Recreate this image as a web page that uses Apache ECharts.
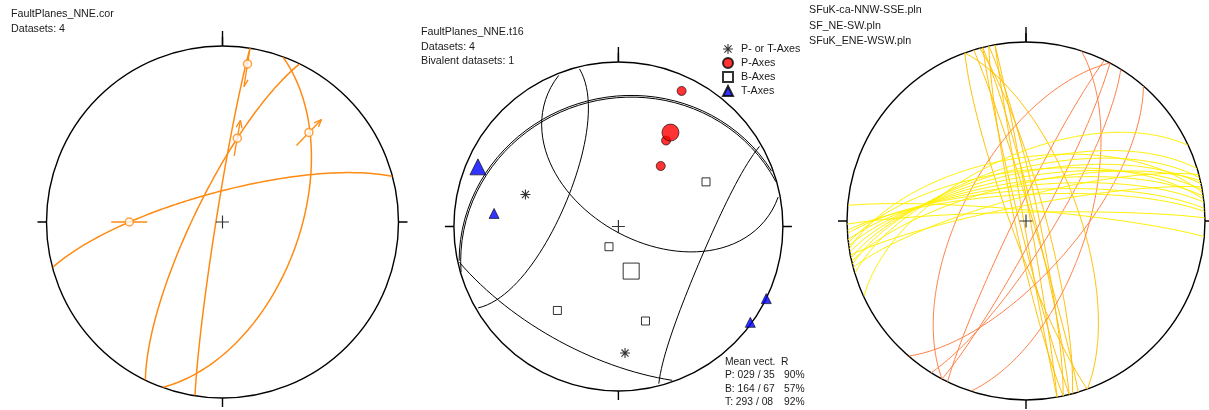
<!DOCTYPE html>
<html>
<head>
<meta charset="utf-8">
<script src="https://cdn.jsdelivr.net/npm/echarts@6/dist/echarts.min.js"></script>
<style>
html,body{margin:0;padding:0;background:#fff;}
#chart{width:1209px;height:410px;}
</style>
</head>
<body>
<div id="chart"></div>
<script>
// ---------- data: fault planes with striae (dip direction / dip, trend / plunge) ----------
const faultDipDir   = [345, 296, 110, 279];
const faultDip      = [76, 77, 54, 87];
const striaTrend    = [270, 10, 44, 9];
const striaPlunge   = [46, 50, 30, 10];
const striaSense    = ['none', 'normal', 'normal', 'dextral'];

// ---------- data: kinematic axes (trend / plunge) ----------
const pAxisTrend    = [25, 29, 35];
const pAxisPlunge   = [10, 40, 53];
const bAxisTrend    = [63, 205, 216, 164];
const bAxisPlunge   = [40, 79, 37, 40];
const tAxisTrend    = [276, 116, 126];
const tAxisPlunge   = [25, 0, 1];
const ptAxisTrend   = [289, 177];
const ptAxisPlunge  = [40, 24];
const meanNames     = ['P', 'B', 'T'];
const meanTrend     = [29, 164, 293];
const meanPlunge    = [35, 67, 8];
const meanR         = [90, 57, 92];
const coneAngle     = [57.7, 89.5, 53.3];
const legendNames   = ['P- or T-Axes', 'P-Axes', 'B-Axes', 'T-Axes'];

// ---------- data: planes (dip direction / dip) ----------
const nnwDipDir = [70, 75, 78, 76, 80, 260, 256, 250, 73, 258];
const nnwDip    = [66, 81, 84, 86, 88, 89, 87, 83, 87, 85];
const neDipDir  = [131, 298, 108, 118, 296, 122];
const neDip     = [67, 61, 62, 84, 85, 78];
const eneDipDir = [335, 351, 343, 346, 348, 350, 352, 354, 356, 345, 349, 353, 359, 5, 347, 357];
const eneDip    = [60, 61, 64, 66, 68, 70, 72, 74, 76, 79, 83, 67, 86, 85, 73, 78];

const fileNames = ['SFuK-ca-NNW-SSE.pln', 'SF_NE-SW.pln', 'SFuK_ENE-WSW.pln'];

// ---------- layout ----------
const NETS = [
  {center: [222.5, 222], radius: 176},
  {center: [618.4, 226.5], radius: 164.5},
  {center: [1026, 221], radius: 179}
];
const ORANGE = '#ff8a12';
const SET_COLORS = ['#ffc000', '#ff7f45', '#ffef00'];
const FONT = '"Liberation Sans", Arial, sans-serif';
const FONT_SIZE = 10.7;
const TXT = '#1a1a1a';

// ---------- spherical helpers (lower hemisphere, equal-area) ----------
const D2R = Math.PI / 180;
function vec(tr, pl) {
  const t = tr * D2R, p = pl * D2R;
  return [Math.cos(p) * Math.sin(t), Math.cos(p) * Math.cos(t), Math.sin(p)];
}
function cross(a, b) {
  return [a[1]*b[2]-a[2]*b[1], a[2]*b[0]-a[0]*b[2], a[0]*b[1]-a[1]*b[0]];
}
function unit(a) { const l = Math.hypot(a[0], a[1], a[2]); return [a[0]/l, a[1]/l, a[2]/l]; }
function toTP(v) {
  let tr = Math.atan2(v[0], v[1]) / D2R; if (tr < 0) tr += 360;
  const pl = Math.asin(Math.max(-1, Math.min(1, v[2]))) / D2R;
  return [tr, pl];
}
function proj(tr, pl) {
  return [Math.SQRT2 * Math.sin((90 - pl) * D2R / 2), ((tr % 360) + 360) % 360];
}
function projVec(v) { const tp = toTP(v); return proj(tp[0], tp[1]); }
function xy(tr, pl) {
  const r = Math.SQRT2 * Math.sin((90 - pl) * D2R / 2);
  return [r * Math.sin(tr * D2R), r * Math.cos(tr * D2R)];
}
function xyPolar(p) {
  let a = Math.atan2(p[0], p[1]) / D2R; if (a < 0) a += 360;
  return [Math.hypot(p[0], p[1]), a];
}
function greatCircle(dd, dip) {
  const s = vec(dd - 90, 0), d = vec(dd, dip), out = [];
  for (let i = 0; i <= 180; i++) {
    const a = i * D2R, c = Math.cos(a), sn = Math.sin(a);
    out.push(projVec([c*s[0] + sn*d[0], c*s[1] + sn*d[1], Math.max(0, c*s[2] + sn*d[2])]));
  }
  return out;
}
// small circle around an axis; returns lower-hemisphere runs (upper part folded to its antipode)
function coneRuns(tr, pl, ang, step) {
  const a = vec(tr, pl);
  const u = unit(cross(a, [0, 0, 1])), w = cross(a, u);
  const ca = Math.cos(ang * D2R), sa = Math.sin(ang * D2R);
  const pts = [];
  for (let f = 0; f < 360; f += step) {
    const c = Math.cos(f * D2R), s = Math.sin(f * D2R);
    const v = [0, 1, 2].map(k => ca * a[k] + sa * (c * u[k] + s * w[k]));
    pts.push({lower: v[2] >= 0, v: v[2] >= 0 ? v : v.map(x => -x)});
  }
  let start = 0;
  for (let i = 0; i < pts.length; i++) {
    if (pts[i].lower !== pts[(i + pts.length - 1) % pts.length].lower) { start = i; break; }
  }
  const runs = []; let cur = null, flag = null;
  for (let k = 0; k < pts.length; k++) {
    const p = pts[(start + k) % pts.length];
    if (p.lower !== flag) { cur = []; runs.push(cur); flag = p.lower; }
    cur.push(projVec(p.v));
  }
  return runs;
}

// ---------- series builders ----------
const series = [];
function addLine(pi, data, color, width, z) {
  series.push({type: 'line', coordinateSystem: 'polar', polarIndex: pi, data: data,
    showSymbol: false, symbol: 'none', clip: false, silent: true, animation: false,
    lineStyle: {color: color, width: width}, z: z || 2});
}
function addScatter(pi, name, data, symbol, size, style, z) {
  series.push({type: 'scatter', name: name, coordinateSystem: 'polar',
    polarIndex: pi, data: data, symbol: symbol, symbolSize: size, clip: false,
    itemStyle: style, silent: true, animation: false, z: z || 5});
}

function barPath(angles, w) {
  let d = '';
  angles.forEach(a => {
    const c = Math.cos(a * D2R), s = Math.sin(a * D2R);
    const px = -s * w, py = c * w;
    const pts = [[-c + px, -s + py], [c + px, s + py], [c - px, s - py], [-c - px, -s - py]];
    d += 'M' + pts.map(p => p[0].toFixed(3) + ',' + p[1].toFixed(3)).join('L') + 'Z';
  });
  return 'path://' + d;
}
const CROSS = barPath([0, 90], 0.09);
const STAR = barPath([0, 45, 90, 135], 0.11);

// frame: centre crosses
NETS.forEach((n, i) => addScatter(i * 2, '', [[0, 0]], CROSS, 13, {color: '#000'}, 3));

// ---------- net 1: fault planes and striae ----------
const NET1_R = NETS[0].radius;
faultDipDir.forEach((dd, i) => addLine(0, greatCircle(dd, faultDip[i]), ORANGE, 1.5));
striaTrend.forEach((tr, i) => {
  const p0 = xy(tr, striaPlunge[i]);
  const dir = [Math.sin(tr * D2R), Math.cos(tr * D2R)];
  const sense = striaSense[i];
  const half = (sense === 'dextral' ? 23 : 18) / NET1_R;
  const head = 8 / NET1_R;
  const tip = [p0[0] + dir[0] * half, p0[1] + dir[1] * half];
  const tail = [p0[0] - dir[0] * half, p0[1] - dir[1] * half];
  addLine(0, [xyPolar(tail), xyPolar(tip)], ORANGE, 1.3, 3);
  const barb = (t, dv, side) => {
    const lp = [-dv[1], dv[0]];
    const c = Math.cos(22 * D2R), s = Math.sin(22 * D2R);
    return [t[0] - head * c * dv[0] + side * head * s * lp[0], t[1] - head * c * dv[1] + side * head * s * lp[1]];
  };
  if (sense === 'normal') {
    addLine(0, [xyPolar(barb(tip, dir, 1)), xyPolar(tip), xyPolar(barb(tip, dir, -1))], ORANGE, 1.3, 3);
  } else if (sense === 'dextral') {
    addLine(0, [xyPolar(tip), xyPolar(barb(tip, dir, 1))], ORANGE, 1.3, 3);
    const back = [-dir[0], -dir[1]];
    addLine(0, [xyPolar(tail), xyPolar(barb(tail, back, 1))], ORANGE, 1.3, 3);
  }
});
addScatter(0, '', striaTrend.map((t, i) => proj(t, striaPlunge[i])), 'circle', 8,
  {color: '#fff', borderColor: ORANGE, borderWidth: 1.5}, 6);

// ---------- net 2: cones around mean axes, individual and mean axes ----------
meanTrend.forEach((tr, i) => {
  coneRuns(tr, meanPlunge[i], coneAngle[i], 4).forEach(run => addLine(2, run, '#000', 1));
});
const axisStyle = {
  star: {color: '#000'},
  p: {color: '#ff0000', borderColor: '#000', borderWidth: 0.8},
  b: {color: '#fff', borderColor: '#000', borderWidth: 1},
  t: {color: '#0000ff', borderColor: '#000', borderWidth: 0.8}
};
addScatter(2, legendNames[0], ptAxisTrend.map((t, i) => proj(t, ptAxisPlunge[i])), STAR, 10, axisStyle.star);
addScatter(2, legendNames[1], pAxisTrend.map((t, i) => proj(t, pAxisPlunge[i]))
  .concat([{value: proj(meanTrend[0], meanPlunge[0]), symbolSize: 17}]), 'circle', 9, axisStyle.p);
addScatter(2, legendNames[2], bAxisTrend.map((t, i) => proj(t, bAxisPlunge[i]))
  .concat([{value: proj(meanTrend[1], meanPlunge[1]), symbolSize: 16}]), 'rect', 8, axisStyle.b);
addScatter(2, legendNames[3], tAxisTrend.map((t, i) => proj(t, tAxisPlunge[i]))
  .concat([{value: proj(meanTrend[2], meanPlunge[2]), symbolSize: 16}]), 'triangle', 10, axisStyle.t);

// ---------- net 3: plane sets ----------
[[nnwDipDir, nnwDip], [neDipDir, neDip], [eneDipDir, eneDip]].forEach((set, k) => {
  set[0].forEach((dd, i) => addLine(4, greatCircle(dd, set[1][i]), SET_COLORS[k], 1));
});

// ---------- axes ----------
const polar = [], angleAxis = [], radiusAxis = [];
NETS.forEach((n, i) => {
  [0, 1].forEach(j => {
    const idx = i * 2 + j;
    polar.push({center: n.center, radius: n.radius});
    angleAxis.push({polarIndex: idx, type: 'value', min: 0, max: 360, startAngle: 90, clockwise: true,
      interval: j ? 360 : 90,
      axisLine: {show: !j, lineStyle: {color: '#000', width: 1.4}},
      axisTick: {show: true, length: j ? 15 : 9, lineStyle: {color: '#000', width: 1.4}},
      axisLabel: {show: false}, splitLine: {show: false}, silent: true});
    radiusAxis.push({polarIndex: idx, type: 'value', min: 0, max: 1,
      axisLine: {show: false}, axisTick: {show: false}, axisLabel: {show: false}, splitLine: {show: false}});
  });
});

// ---------- text ----------
function text(x, y, s, size) {
  return {type: 'text', left: x, top: y, silent: true,
    style: {text: s, fill: TXT, font: (size || FONT_SIZE) + 'px ' + FONT}};
}
const graphic = [
  text(11, 9, 'FaultPlanes_NNE.cor'),
  text(11, 24, 'Datasets: ' + faultDipDir.length),
  text(421, 27, 'FaultPlanes_NNE.t16'),
  text(421, 42, 'Datasets: 4'),
  text(421, 56, 'Bivalent datasets: 1'),
  text(725, 357, 'Mean vect.', 10.3),
  text(781, 357, 'R', 10.3)
];
meanNames.forEach((nm, i) => {
  const tr = String(meanTrend[i]).padStart(3, '0');
  const pl = String(meanPlunge[i]).padStart(2, '0');
  graphic.push(text(725, 370 + i * 13.7, nm + ': ' + tr + ' / ' + pl, 10.3));
  graphic.push(text(784, 370 + i * 13.7, meanR[i] + '%', 10.3));
});
fileNames.forEach((f, i) => graphic.push(text(809, 5 + i * 15.5, f)));

const chart = echarts.init(document.getElementById('chart'), null, {renderer: 'canvas'});
chart.setOption({
  animation: false,
  backgroundColor: '#fff',
  polar: polar, angleAxis: angleAxis, radiusAxis: radiusAxis,
  legend: {
    data: legendNames,
    orient: 'vertical', left: 717, top: 37, itemGap: 0, itemWidth: 10, itemHeight: 10,
    selectedMode: false,
    textStyle: {fontSize: FONT_SIZE, fontFamily: FONT, color: TXT, lineHeight: 14, padding: [0, 0, 0, 3]}
  },
  graphic: graphic,
  series: series
});
</script>
</body>
</html>
